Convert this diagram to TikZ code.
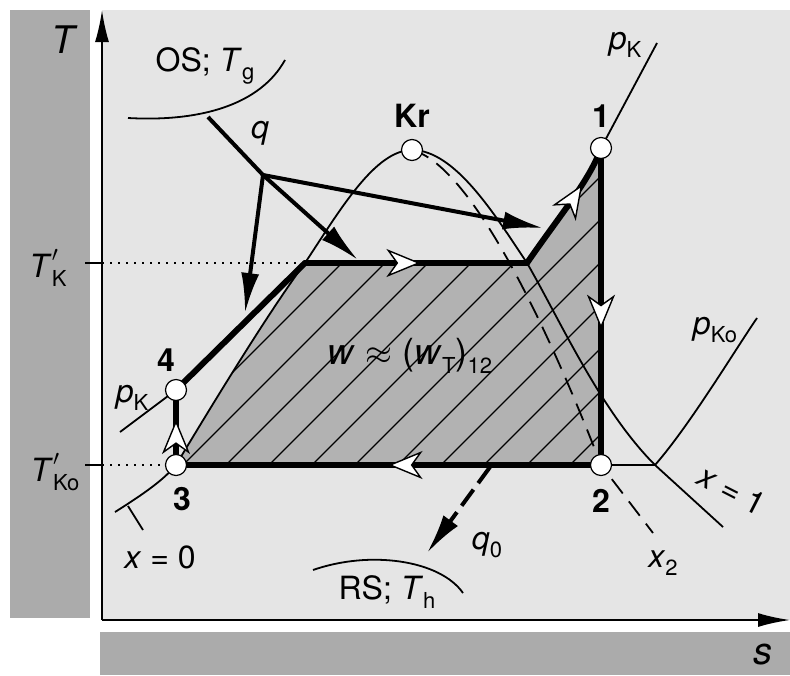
\documentclass[tikz,border=0pt]{standalone}
\usepackage{fontspec}
\setmainfont{TeX Gyre Heros}
\usetikzlibrary{arrows.meta,positioning,decorations.markings}
\newcommand{\lblsize}{\fontsize{16}{19}\selectfont}
\newcommand{\subsize}{\fontsize{11}{13}\selectfont}
\newcommand{\ix}[1]{\raisebox{-0.5ex}{\subsize #1}}
\newcommand{\Tpr}[1]{\textit{T}\rlap{\raisebox{0.2ex}{$^{\prime}$}}\ix{#1}}

\begin{document}
\begin{tikzpicture}[x=0.5pt,y=-0.5pt,font=\lblsize,
  pt/.style={circle,draw,fill=white,line width=0.6pt,minimum size=10.5pt,inner sep=0pt},
  num/.style={font=\lblsize\bfseries},
  cyc/.style={line width=3pt,line cap=round,line join=round},
  curve/.style={line width=0.9pt},
  hatchline/.style={line width=0.6pt},
  axis/.style={line width=1pt,-{Latex[length=16pt,width=7pt]}},
  heat/.style={line width=2pt,-{Latex[length=20pt,width=9pt]}},
  wtip/.tip={Stealth[length=17pt,width=14pt,inset=5pt,fill=white,line width=0.7pt]},
  flow/.style={postaction={decorate},decoration={markings,mark=at position #1 with {\arrow{wtip}}}}]
\useasboundingbox (0,0) rectangle (790,675);
% background
\fill[white] (0,0) rectangle (790,675);
\fill[black!10] (102,10) rectangle (790,620);
\fill[black!33] (10,10) rectangle (90,618);
\fill[black!33] (100,632) rectangle (790,675);

% state points
\coordinate (c1) at (601,148);
\coordinate (c2) at (601,465);
\coordinate (c3) at (176,465);
\coordinate (c4) at (176,390);
\coordinate (ca) at (305,263);
\coordinate (cb) at (527,263);
\coordinate (cKr) at (412,150);
\coordinate (cx) at (655,465);
\coordinate (O) at (102,620);

% work area
\begin{scope}
\clip (c3) .. controls (215,400) and (270,310) .. (ca) -- (cb)
  .. controls (560,215) and (590,180) .. (c1) -- (c2) -- cycle;
\fill[black!30] (170,140) rectangle (610,470);
\foreach \h in {92,135,...,600}
  \draw[hatchline] (\h,470) -- ++(340,-340);
\end{scope}

% saturation lines x=0, x=1 and x2
\draw[curve] (115,512) .. controls (150,490) and (165,478) .. (c3)
  .. controls (215,400) and (270,310) .. (ca)
  .. controls (340,210) and (375,150) .. (cKr)
  .. controls (455,150) and (495,215) .. (cb)
  .. controls (560,320) and (600,410) .. (cx) -- (723,527);
\draw[curve,dash pattern=on 9pt off 5pt] (cKr) .. controls (470,165) and (545,320) .. (c2) -- (653,533);
\draw[curve] (128,506) -- (143,530);

% isobars
\draw[curve] (120,432) -- (c4);
\draw[curve] (c1) -- (657,43);
\draw[curve] (c2) -- (cx) .. controls (690,425) and (735,350) .. (757,318);

% OS and RS
\draw[curve] (128,118) .. controls (200,122) and (260,105) .. (285,60);
\draw[curve] (313,570) .. controls (370,550) and (440,560) .. (463,593);

% axes
\draw[axis] (O) -- (102,10);
\draw[axis] (O) -- (790,620);
\draw[line width=1pt] (85,263) -- (102,263);
\draw[line width=1pt] (85,465) -- (102,465);
\draw[line width=1pt,dash pattern=on 1pt off 3pt] (102,263) -- (ca);
\draw[line width=1pt,dash pattern=on 1pt off 3pt] (102,465) -- (c3);

% cycle
\draw[cyc,flow=0.6] (c3) -- (c4);
\draw[cyc] (c4) -- (ca);
\draw[cyc,flow=0.52] (ca) -- (cb);
\draw[cyc,flow=0.7] (cb) .. controls (560,215) and (590,180) .. (c1);
\draw[cyc,flow=0.57] (c1) -- (c2);
\draw[cyc,flow=0.5] (c2) -- (c3);

% heat flows
\coordinate (os) at (208,117);
\coordinate (qj) at (263,175);
\draw[line width=2pt] (os) -- (qj);
\draw[heat] (qj) -- (245,313);
\draw[heat] (qj) -- (358,260);
\draw[heat] (qj) -- (543,228);
\draw[heat,dash pattern=on 10pt off 4pt] (490,467) -- (427,553);

% points
\node[pt] (n1) at (c1) {};
\node[pt] (n2) at (c2) {};
\node[pt] (n3) at (c3) {};
\node[pt] (n4) at (c4) {};
\node[pt] (nKr) at (cKr) {};
\node[num,above=1pt of n1] {1};
\node[num,below=3pt of n2] {2};
\node[num,below=2pt of n3,xshift=3pt] {3};
\node[num,above=0pt of n4,xshift=-5pt] {4};
\node[num,above=2pt of nKr] {Kr};

% labels
\node[font=\fontsize{19}{22}\selectfont] at (65,40) {\textit{T}};
\node[font=\fontsize{19}{22}\selectfont] at (763,655) {\textit{s}};
\node at (48,268) {\Tpr{K}};
\node at (55,472) {\Tpr{Ko}};
\node at (205,66) {OS; \textit{T}\ix{g}};
\node at (260,133) {\textit{q}};
\node at (625,45) {\textit{p}\ix{K}};
\node at (715,330) {\textit{p}\ix{Ko}};
\node[font=\fontsize{18}{21}\selectfont] at (410,356) {\textit{w} $\approx$ (\textit{w}\ix{T})\ix{12}};
\node at (132,398) {\textit{p}\ix{K}};
\node at (160,557) {\textit{x} = 0};
\node[rotate=-27,inner sep=1pt] at (732,490) {\textit{x} = 1};
\node at (663,563) {\textit{x}\ix{2}};
\node at (487,545) {\textit{q}\ix{0}};
\node at (387,592) {RS; \textit{T}\ix{h}};
\end{tikzpicture}
\end{document}
